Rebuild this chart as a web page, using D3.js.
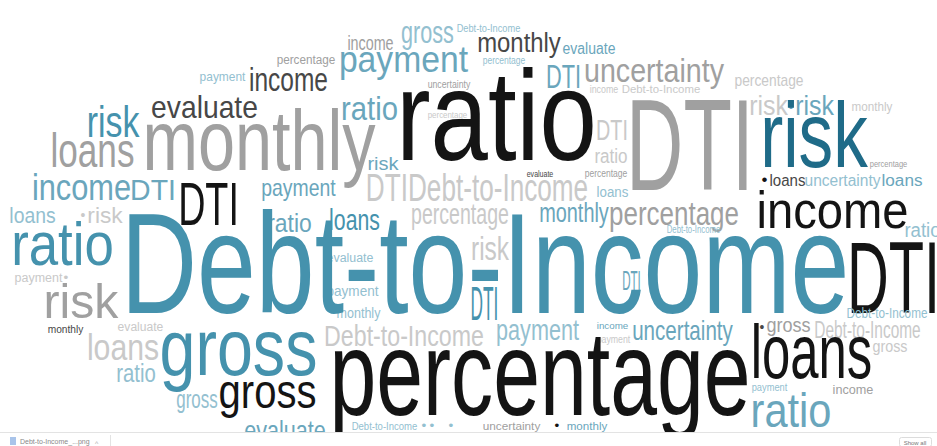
<!DOCTYPE html>
<html>
<head>
<meta charset="utf-8">
<script src="https://cdn.jsdelivr.net/npm/d3@7"></script>
<style>
    html, body { margin: 0; padding: 0; background: #fff; overflow: hidden; }
    svg { display: block; }
    .word { font-family: "Liberation Sans Narrow", "Liberation Sans", "DejaVu Sans Condensed", sans-serif; }
    .bar text { font-family: "Liberation Sans", sans-serif; }
</style>
</head>
<body>
<svg id="cloud"></svg>
<script>
// colour tones used by the cloud
var tones = ["#141414", "#474747", "#a0a0a0", "#c9c9c9", "#4592ad", "#1f6b88", "#93c0d0", "#6aa6bc"];

// word, weight (font size), layout left, layout right, layout baseline, tone
var words = [
    ["gross", 31, 402, 453, 43, 6],
    ["Debt-to-Income", 11, 457, 520, 32, 6],
    ["income", 20, 348, 393, 50, 2],
    ["monthly", 27, 478, 560, 52, 1],
    ["evaluate", 16, 563, 615, 54, 7],
    ["percentage", 11, 483, 525, 64, 6],
    ["percentage", 12, 277, 335, 64, 2],
    ["payment", 37, 340, 467, 72, 7],
    ["DTI", 34, 547, 580, 88, 7],
    ["uncertainty", 33, 585, 723, 82, 2],
    ["payment", 13, 200, 245, 81, 6],
    ["income", 33, 250, 327, 91, 1],
    ["percentage", 17, 735, 803, 86, 3],
    ["income", 11, 590, 618, 93, 3],
    ["Debt-to-Income", 11, 622, 700, 93, 3],
    ["uncertainty", 10, 428, 470, 88, 2],
    ["evaluate", 32, 152, 257, 118, 1],
    ["ratio", 33, 342, 397, 120, 7],
    ["percentage", 9, 428, 467, 118, 3],
    ["risk", 27, 750, 787, 115, 3],
    ["risk", 27, 796, 833, 115, 7],
    ["•", 14, 789, 793, 112, 7],
    ["monthly", 13, 852, 892, 111, 3],
    ["risk", 44, 88, 138, 137, 4],
    ["DTI", 30, 597, 627, 140, 3],
    ["ratio", 128, 400, 593, 160, 0],
    ["DTI", 130, 630, 750, 190, 2],
    ["monthly", 85, 145, 373, 170, 2],
    ["loans", 48, 52, 133, 167, 2],
    ["risk", 92, 763, 865, 167, 5],
    ["ratio", 20, 595, 627, 163, 3],
    ["percentage", 9, 870, 907, 167, 2],
    ["risk", 18, 368, 398, 170, 7],
    ["evaluate", 9, 527, 553, 177, 1],
    ["percentage", 10, 585, 627, 177, 2],
    ["loans", 16, 770, 805, 186, 1],
    ["•", 16, 762, 767, 185, 0],
    ["uncertainty", 16, 805, 880, 186, 6],
    ["loans", 16, 882, 922, 186, 7],
    ["DTIDebt-to-Income", 38, 367, 587, 201, 3],
    ["loans", 14, 597, 628, 197, 6],
    ["income", 37, 33, 130, 200, 7],
    ["DTI", 30, 131, 175, 200, 7],
    ["payment", 24, 262, 335, 196, 7],
    ["DTI", 62, 180, 237, 225, 0],
    ["income", 52, 758, 907, 228, 0],
    ["loans", 22, 10, 55, 223, 6],
    ["risk", 22, 88, 122, 223, 3],
    ["•", 14, 81, 85, 220, 3],
    ["ratio", 26, 268, 311, 232, 7],
    ["loans", 30, 330, 379, 230, 4],
    ["percentage", 30, 412, 508, 224, 3],
    ["monthly", 27, 540, 608, 222, 7],
    ["percentage", 33, 610, 738, 225, 2],
    ["ratio", 20, 905, 940, 237, 6],
    ["Debt-to-Income", 10, 667, 720, 233, 6],
    ["ratio", 62, 13, 112, 265, 4],
    ["risk", 33, 472, 508, 260, 3],
    ["evaluate", 12, 327, 373, 262, 6],
    ["payment", 12, 15, 62, 282, 3],
    ["•", 12, 64, 68, 282, 3],
    ["DTI", 28, 623, 640, 290, 7],
    ["payment", 15, 327, 378, 296, 6],
    ["monthly", 14, 337, 380, 318, 6],
    ["DTI", 48, 472, 497, 320, 4],
    ["Debt-to-Income", 142, 125, 845, 313, 4],
    ["DTI", 102, 850, 937, 313, 0],
    ["risk", 48, 45, 117, 318, 2],
    ["Debt-to-Income", 15, 847, 927, 318, 6],
    ["monthly", 11, 48, 83, 333, 1],
    ["evaluate", 12, 118, 163, 331, 3],
    ["loans", 37, 88, 158, 360, 3],
    ["gross", 80, 162, 315, 375, 4],
    ["Debt-to-Income", 30, 325, 483, 346, 3],
    ["payment", 30, 497, 578, 340, 6],
    ["income", 9, 597, 628, 329, 7],
    ["payment", 11, 597, 630, 343, 3],
    ["uncertainty", 28, 633, 732, 340, 7],
    ["gross", 20, 767, 810, 332, 2],
    ["•", 14, 760, 764, 332, 1],
    ["Debt-to-Income", 23, 815, 920, 338, 3],
    ["gross", 16, 873, 907, 352, 3],
    ["loans", 76, 753, 870, 378, 0],
    ["percentage", 120, 333, 747, 415, 0],
    ["ratio", 25, 117, 155, 382, 6],
    ["gross", 25, 177, 217, 408, 6],
    ["gross", 48, 220, 315, 408, 0],
    ["payment", 10, 752, 787, 391, 6],
    ["income", 13, 833, 873, 394, 2],
    ["ratio", 48, 752, 830, 427, 7],
    ["evaluate", 28, 245, 325, 440, 7],
    ["Debt-to-Income", 10, 352, 417, 430, 6],
    ["•", 12, 422, 426, 430, 6],
    ["•", 12, 430, 434, 430, 6],
    ["•", 12, 449, 453, 430, 6],
    ["uncertainty", 10, 483, 540, 430, 2],
    ["•", 12, 555, 559, 430, 0],
    ["monthly", 10, 567, 607, 430, 7]
];

var download = { file: "Debt-to-Income_...png", button: "Show all" };

(function() {
    var width = 937,
        height = 446,
        cloudH = 432;

    var svg = d3.select("#cloud")
        .attr("width", width)
        .attr("height", height);

    svg.append("rect")
        .attr("width", width)
        .attr("height", height)
        .attr("fill", "#fff");

    // layout space of the cloud -> screen
    var x = d3.scaleLinear().domain([0, 937]).range([0, width]);
    var y = d3.scaleLinear().domain([0, 432]).range([0, cloudH]);
    var size = d3.scaleLinear().domain([0, 150]).range([0, 150]);
    var colour = d3.scaleOrdinal().domain(d3.range(tones.length)).range(tones);

    var data = words.map(function(w) {
        return { text: w[0], size: w[1], x0: w[2], x1: w[3], y: w[4], tone: w[5] };
    });

    svg.append("g")
        .attr("class", "words")
        .selectAll("text")
        .data(data)
        .enter()
        .append("text")
        .attr("class", "word")
        .attr("x", function(d) { return x(d.x0) - size(d.size) * 0.03; })
        .attr("y", function(d) { return y(d.y); })
        .attr("font-size", function(d) { return size(d.size) + "px"; })
        .attr("textLength", function(d) { return x(d.x1) - x(d.x0) + size(d.size) * 0.06; })
        .attr("lengthAdjust", "spacingAndGlyphs")
        .attr("fill", function(d) { return colour(d.tone); })
        .text(function(d) { return d.text; });

    // browser download shelf at the bottom of the screenshot
    var bar = svg.append("g").attr("class", "bar");

    bar.append("rect")
        .attr("x", 0).attr("y", cloudH)
        .attr("width", width).attr("height", height - cloudH)
        .attr("fill", "#fff");

    bar.append("line")
        .attr("x1", 0).attr("x2", width)
        .attr("y1", cloudH + 0.5).attr("y2", cloudH + 0.5)
        .attr("stroke", "#e3e3e3");

    bar.append("rect")
        .attr("x", 10).attr("y", 437)
        .attr("width", 6).attr("height", 8)
        .attr("fill", "#a9c4ea");

    bar.append("text")
        .attr("x", 20).attr("y", 444)
        .attr("font-size", "7px")
        .attr("fill", "#8a8a8a")
        .text(download.file);

    bar.append("text")
        .attr("x", 95).attr("y", 446)
        .attr("font-size", "7px")
        .attr("fill", "#aaa")
        .text("^");

    bar.append("line")
        .attr("x1", 110.5).attr("x2", 110.5)
        .attr("y1", 435).attr("y2", height)
        .attr("stroke", "#e3e3e3");

    bar.append("rect")
        .attr("x", 899.5).attr("y", 437.5)
        .attr("width", 32).attr("height", 9)
        .attr("rx", 2)
        .attr("fill", "#fff")
        .attr("stroke", "#dcdcdc");

    bar.append("text")
        .attr("x", 915).attr("y", 445)
        .attr("text-anchor", "middle")
        .attr("font-size", "6px")
        .attr("fill", "#777")
        .text(download.button);
}());
</script>
</body>
</html>
